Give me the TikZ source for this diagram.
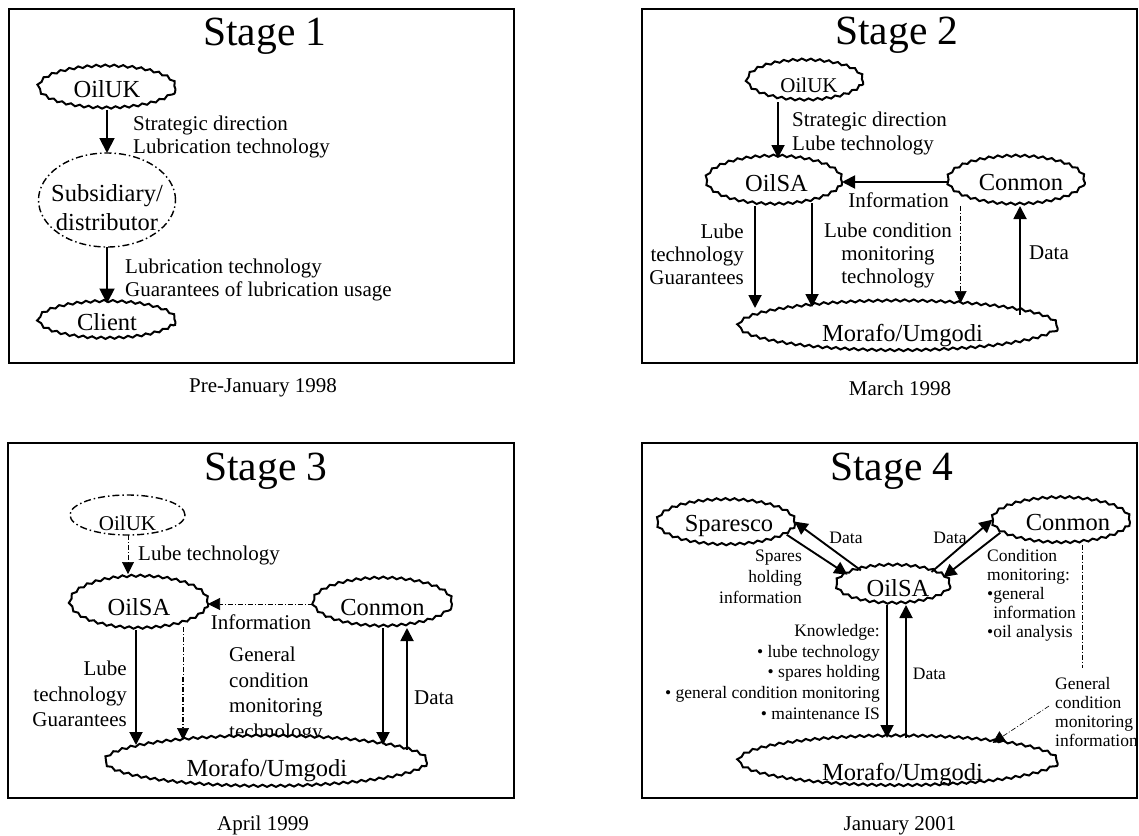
\documentclass[tikz,border=0pt]{standalone}
\usepackage{fontspec}
\setmainfont{Liberation Serif}
\usetikzlibrary{shapes.geometric,arrows.meta,decorations.pathmorphing}
\tikzset{
 framebox/.style={draw, line width=2.4pt},
 blob/.style={ellipse, draw, fill=white, line width=2pt, inner sep=0pt, outer sep=0pt,
   decoration={snake, amplitude=1.1pt, segment length=9pt}, decorate},
 dblob/.style={ellipse, draw, line width=1.4pt, dash pattern=on 7pt off 3pt on 1.5pt off 3pt,
   inner sep=0pt, outer sep=0pt},
 arr/.style={line width=1.9pt, -{Triangle[length=13pt,width=13pt]}},
 bigarr/.style={line width=1.9pt, -{Triangle[length=15pt,width=15pt]}},
 dd/.style={line width=0.6pt, dash pattern=on 5pt off 2pt on 1pt off 2pt},
 ddarr/.style={dd, -{Triangle[length=12pt,width=12pt]}},
 ttl/.style={font=\fontsize{41.5}{48}\selectfont, inner sep=0pt, anchor=base},
 capt/.style={font=\fontsize{21}{24}\selectfont, inner sep=0pt, anchor=base},
 lab/.style={font=\fontsize{21}{23.5}\selectfont, inner sep=0pt},
 smalllab/.style={font=\fontsize{17.5}{19}\selectfont, inner sep=0pt},
 ntext/.style={font=\fontsize{24.5}{28.5}\selectfont, inner sep=0pt, align=center},
}
\begin{document}
\begin{tikzpicture}[x=1pt, y=-1pt]
\useasboundingbox (0,0) rectangle (1139,835);
% frames
\draw[framebox] (9,9) rectangle (514,363);
\draw[framebox] (642,9) rectangle (1137,363);
\draw[framebox] (8,443) rectangle (514,798);
\draw[framebox] (642,443) rectangle (1137,798);

% ---------------- Stage 1
\node[ttl] (t1) at (265,45) {Stage 1};
\node[blob, minimum width=137pt, minimum height=42pt, label={[ntext]center:OilUK}] (oiluk1) at (107,89) {};
\node[dblob, minimum width=137pt, minimum height=94pt, label={[ntext,yshift=-7.5pt]center:{Subsidiary/\\distributor}}] (sub1) at (107,200) {};
\node[blob, minimum width=137pt, minimum height=37pt, label={[ntext]center:Client}] (client1) at (107,322) {};
\draw[bigarr] (oiluk1.south) -- (sub1.north);
\draw[bigarr] (sub1.south) -- (client1.north);
\node[lab, align=left, anchor=west] (l1a) at (133,137) {Strategic direction\\Lubrication technology};
\node[lab, align=left, anchor=west] (l1b) at (125,280) {Lubrication technology\\Guarantees of lubrication usage};
\node[capt] (c1) at (263,392) {Pre-January 1998};

% ---------------- Stage 2
\node[ttl] (t2) at (897,44) {Stage 2};
\node[blob, minimum width=116pt, minimum height=40pt, label={[ntext,font=\fontsize{21}{24}\selectfont,xshift=4pt,yshift=-3pt]center:OilUK}] (oiluk2) at (805,82) {};
\node[blob, minimum width=136pt, minimum height=48pt, label={[ntext,xshift=2.5pt,yshift=-1pt]center:OilSA}] (oilsa2) at (774,182) {};
\node[blob, minimum width=137pt, minimum height=48pt, label={[ntext,xshift=5pt,yshift=-1pt]center:Conmon}] (conmon2) at (1016,182) {};
\node[blob, minimum width=319pt, minimum height=50pt, label={[ntext,xshift=4.5pt,yshift=-7.5pt]center:Morafo/Umgodi}] (mor2) at (898,328) {};
\draw[arr] ([xshift=-27pt]oiluk2.south) -- ([xshift=4pt]oilsa2.north);
\draw[arr] (conmon2.west) -- (oilsa2.east);
\draw[arr] ([xshift=-19pt]oilsa2.south) -- ([xshift=-143pt,yshift=-5pt]mor2.north);
\draw[arr] ([xshift=38pt,yshift=3pt]oilsa2.south) -- ([xshift=-86pt,yshift=-4pt]mor2.north);
\draw[ddarr] ([xshift=-55.4pt]conmon2.south) -- ([xshift=62.6pt]mor2.north);
\draw[arr] ([xshift=122pt,yshift=-12pt]mor2.north) -- ([xshift=4pt]conmon2.south);
\node[lab, align=left, anchor=west, font=\fontsize{21}{24}\selectfont] (l2a) at (792,133.5) {Strategic direction\\Lube technology};
\node[lab] (l2b) at (898.6,200) {Information};
\node[lab, align=right, anchor=east, font=\fontsize{21}{23}\selectfont] (l2c) at (744,254) {Lube\\technology\\Guarantees};
\node[lab, align=center, font=\fontsize{21}{23}\selectfont] (l2d) at (888,255) {Lube condition\\monitoring\\technology};
\node[lab] (l2e) at (1049,253) {Data};
\node[capt] (c2) at (900,395) {March 1998};

% ---------------- Stage 3
\node[ttl] (t3) at (266,480) {Stage 3};
\node[dblob, minimum width=115pt, minimum height=40pt, label={[ntext,font=\fontsize{21}{24}\selectfont,yshift=-8pt]center:OilUK}] (oiluk3) at (127.5,515) {};
\node[blob, minimum width=138pt, minimum height=52pt, label={[ntext,yshift=-3pt]center:OilSA}] (oilsa3) at (139,604) {};
\node[blob, minimum width=139pt, minimum height=48pt, label={[ntext,yshift=-3pt]center:Conmon}] (conmon3) at (382.5,604) {};
\node[lab, align=left, anchor=west, font=\fontsize{21}{25.7}\selectfont] (l3d) at (229,695) {General\\condition\\monitoring\\technology};
\node[blob, minimum width=322pt, minimum height=50pt, label={[ntext,xshift=1pt,yshift=-7.5pt]center:Morafo/Umgodi}] (mor3) at (266,763) {};
\draw[ddarr] ([xshift=0.5pt]oiluk3.south) -- ([xshift=-11pt,yshift=4pt]oilsa3.north);
\draw[ddarr] (conmon3.west) -- (oilsa3.east);
\draw[arr] ([xshift=-3pt]oilsa3.south) -- ([xshift=-130pt,yshift=-7pt]mor3.north);
\draw[ddarr] ([xshift=44pt,yshift=3pt]oilsa3.south) -- ([xshift=-83pt,yshift=-2pt]mor3.north);
\draw[dd, line width=1.8pt] ([xshift=44pt,yshift=-47pt]oilsa3.south) -- ([xshift=-83pt,yshift=10pt]mor3.north);
\draw[arr] ([xshift=0.5pt]conmon3.south) -- ([xshift=117pt,yshift=-7pt]mor3.north);
\draw[arr] ([xshift=141pt,yshift=-12pt]mor3.north) -- ([xshift=24.5pt]conmon3.south);
\node[lab, anchor=west] (l3a) at (138,555) {Lube technology};
\node[lab] (l3b) at (261,622) {Information};
\node[lab, align=right, anchor=east, font=\fontsize{21}{25.5}\selectfont] (l3c) at (127,694) {Lube\\technology\\Guarantees};
\node[lab] (l3e) at (434,698) {Data};
\node[capt] (c3) at (263,830) {April 1999};

% ---------------- Stage 4
\node[ttl] (t4) at (892,480) {Stage 4};
\node[blob, minimum width=138pt, minimum height=45pt, label={[ntext,xshift=3pt,yshift=-2pt]center:Sparesco}] (spar4) at (726,524) {};
\node[blob, minimum width=138pt, minimum height=45pt, label={[ntext,xshift=7pt]center:Conmon}] (conmon4) at (1061,522) {};
\node[blob, minimum width=114pt, minimum height=38pt, label={[ntext,xshift=5pt,yshift=-2pt]center:OilSA}] (oilsa4) at (893,586) {};
\node[blob, minimum width=319pt, minimum height=50pt, label={[ntext,xshift=4.5pt,yshift=-11.5pt]center:Morafo/Umgodi}] (mor4) at (898,763) {};
\draw[arr] (oilsa4.154) -- (spar4.2);
\draw[arr] (spar4.-10) -- (oilsa4.166);
\draw[arr] (oilsa4.20) -- (conmon4.178);
\draw[arr] (conmon4.190) -- (oilsa4.10);
\draw[arr] ([xshift=-6pt]oilsa4.south) -- ([xshift=-11pt]mor4.north);
\draw[arr] ([xshift=8pt]mor4.north) -- ([xshift=13pt]oilsa4.south);
\coordinate (cdot4) at (1082.7,668);
\draw[dd] ([xshift=21.7pt]conmon4.south) -- (cdot4);
\node[smalllab, align=left, anchor=west] (gcmi4) at (1055,712) {General\\condition\\monitoring\\information};
\draw[ddarr] ([xshift=-6pt,yshift=6pt]gcmi4.west) -- (mor4.12);
\node[smalllab] (d4a) at (846,538) {Data};
\node[smalllab] (d4b) at (950,538) {Data};
\node[smalllab] (d4c) at (929.4,674) {Data};
\node[smalllab, align=right, anchor=east, font=\fontsize{17.5}{21}\selectfont] (sp4) at (802,577) {Spares\\holding\\information};
\node[smalllab, align=left, anchor=west] (cm4) at (987,595) {Condition\\monitoring:\\•general\\\hphantom{•}information\\•oil analysis};
\node[smalllab, align=right, anchor=east, font=\fontsize{17.5}{20.75}\selectfont] (kn4) at (880,672) {Knowledge:\\• lube technology\\• spares holding\\• general condition monitoring\\• maintenance IS};
\node[capt] (c4) at (900,830) {January 2001};
\end{tikzpicture}
\end{document}
